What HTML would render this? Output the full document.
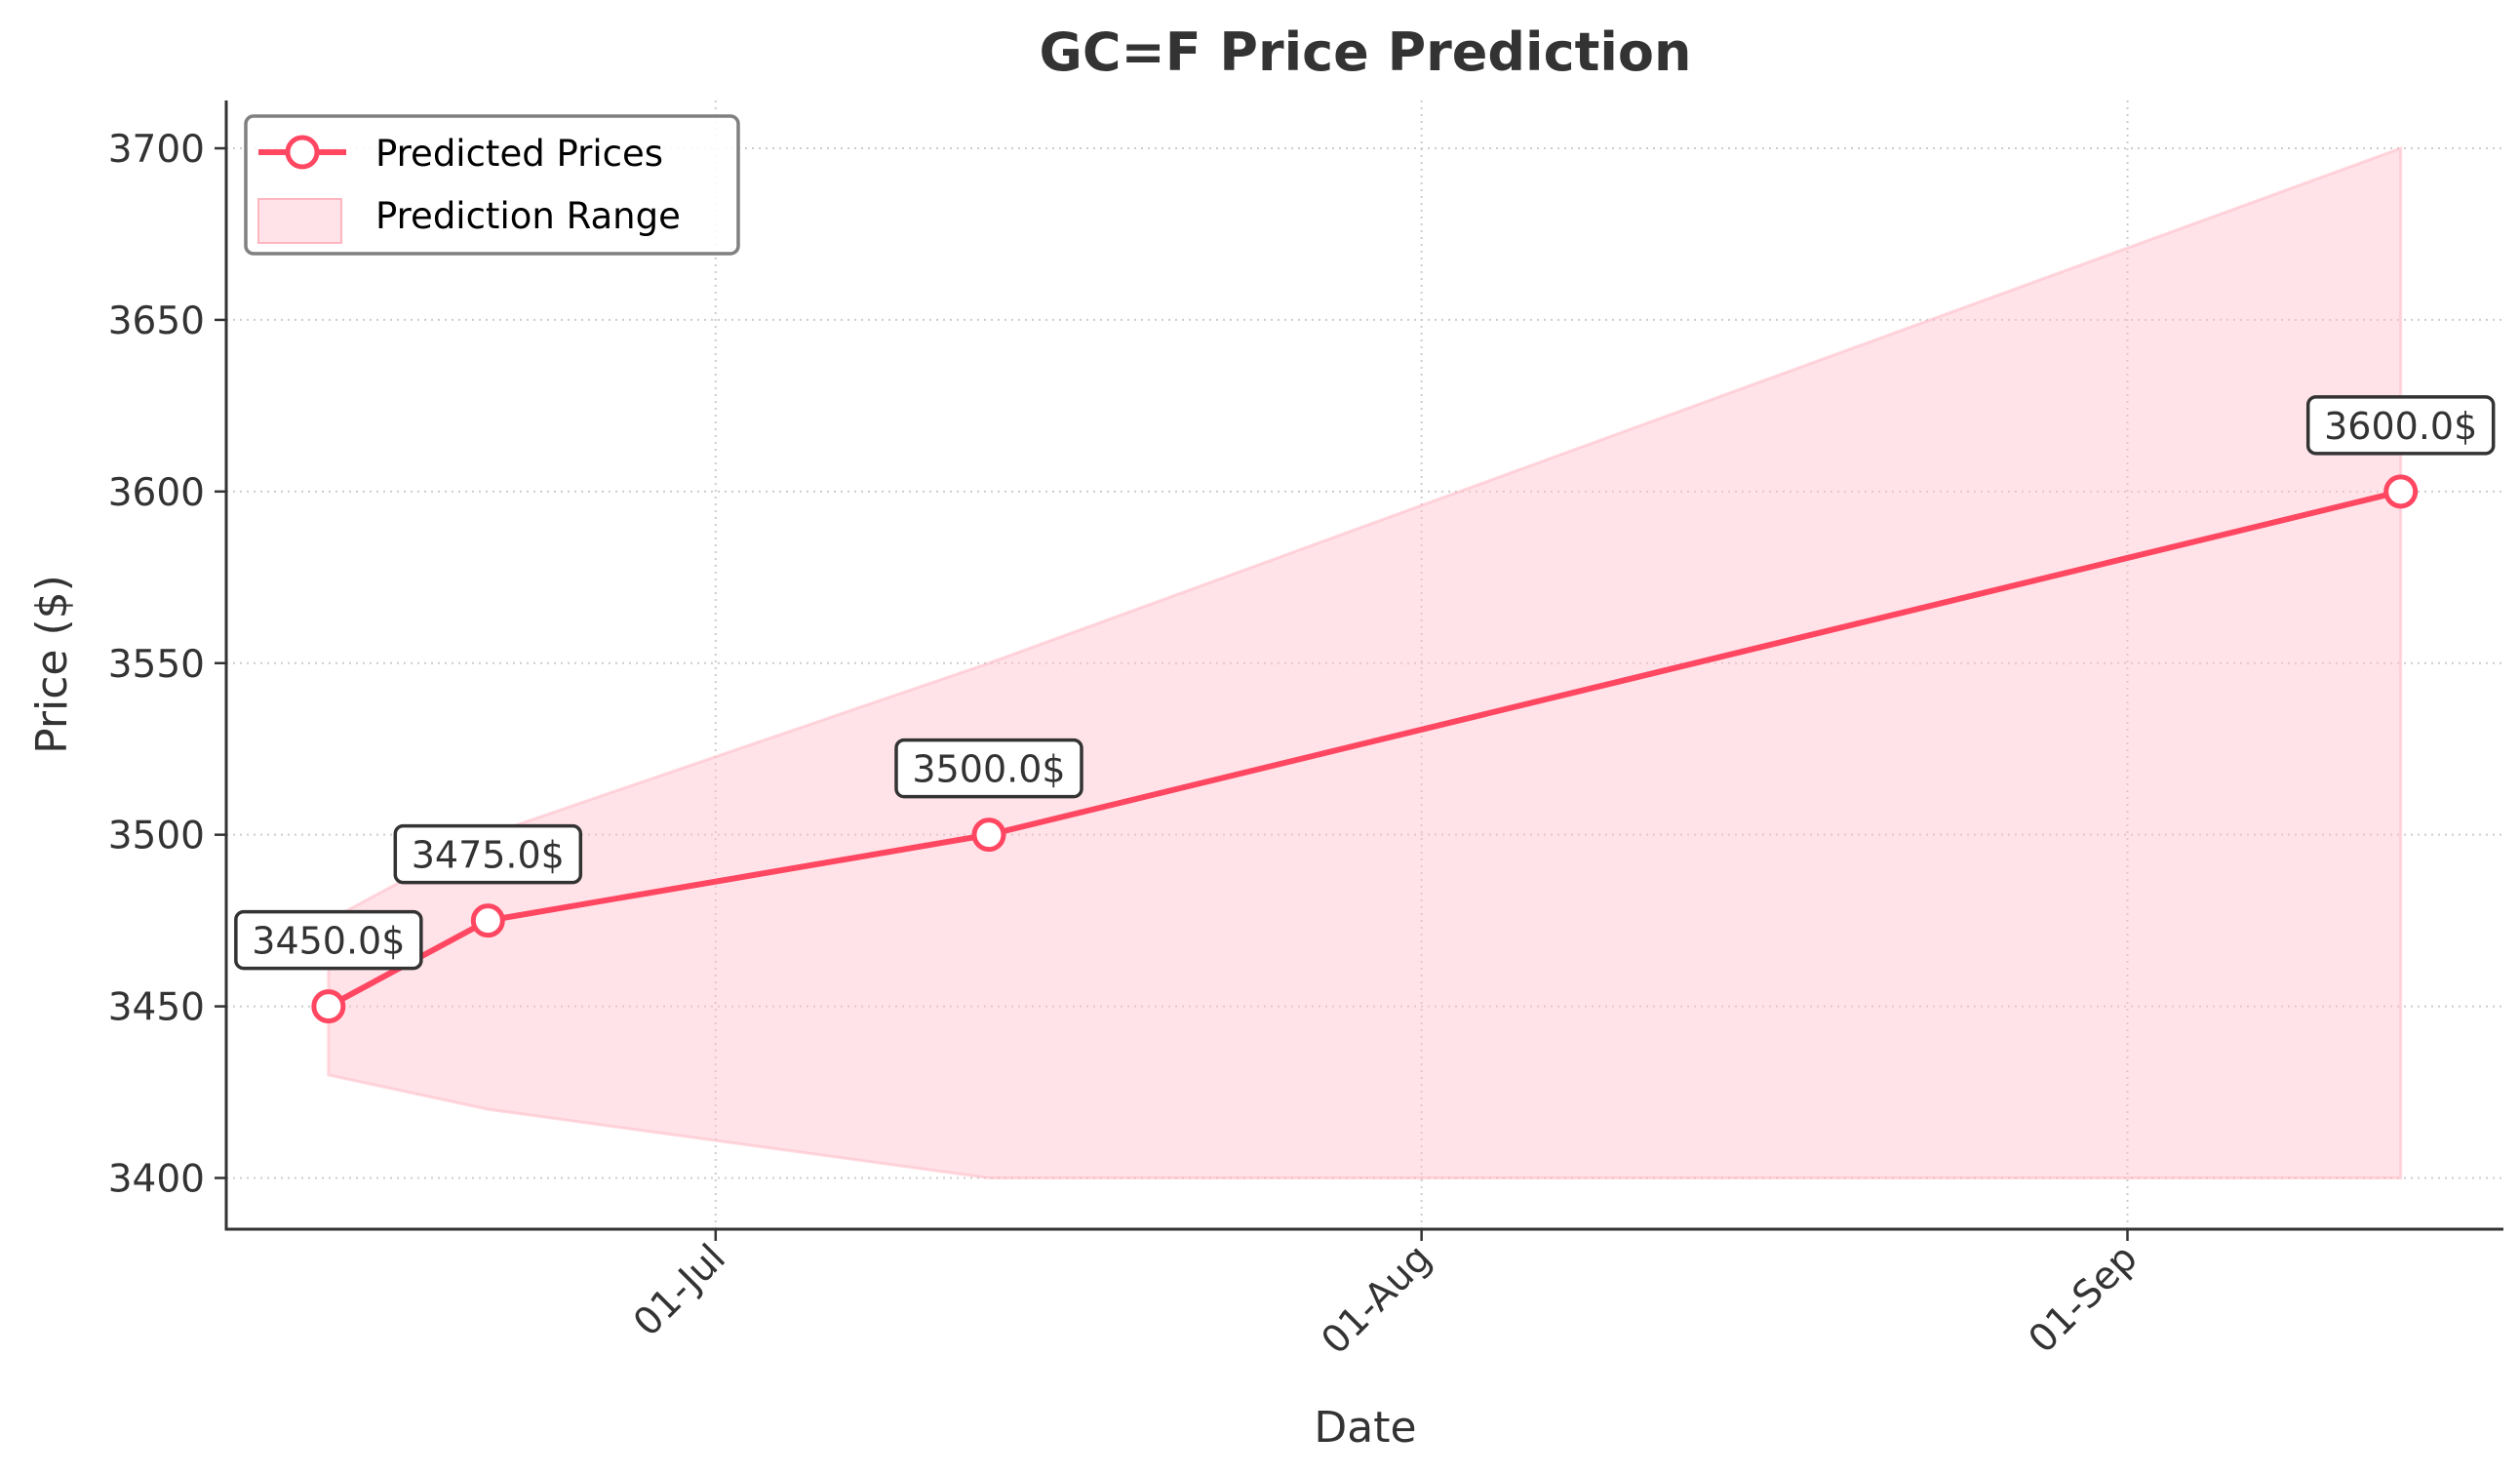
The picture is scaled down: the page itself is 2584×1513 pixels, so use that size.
<!DOCTYPE html>
<html><head><meta charset="utf-8"><style>
html,body{margin:0;padding:0;background:#fff}
svg{display:block;font-family:"DejaVu Sans","Liberation Sans",sans-serif}
</style></head><body>
<svg id="chart" width="2584" height="1513" viewBox="0 0 2584 1513" xmlns="http://www.w3.org/2000/svg">
<rect width="2584" height="1513" fill="#fff"/>
<text x="1400" y="72" text-anchor="middle" font-size="54" font-weight="bold" fill="#333">GC=F Price Prediction</text>
<g id="grid"></g>
<g id="band"></g>
<g id="series"></g>
<g id="axes"></g>
<g id="annots"></g>
<g>
<rect x="252" y="119" width="505" height="141" rx="8" fill="#fff" fill-opacity="0.85" stroke="#808080" stroke-width="3.5"/>
<line x1="265" y1="156" x2="355" y2="156" stroke="#ff4762" stroke-width="6"/>
<circle cx="310" cy="156" r="15" fill="#fff" stroke="#ff4762" stroke-width="5"/>
<text x="385" y="170" font-size="37" fill="#000">Predicted Prices</text>
<rect x="265" y="204" width="85" height="45" fill="#ffc0cb" fill-opacity="0.45" stroke="#ffb6c1" stroke-width="2"/>
<text x="385" y="234" font-size="37" fill="#000">Prediction Range</text>
</g>
<text x="1400" y="1478" text-anchor="middle" font-size="44" fill="#333">Date</text>
<text transform="translate(68,681) rotate(-90)" text-anchor="middle" font-size="44" fill="#333">Price ($)</text>
</svg>
<script>
const days = [13, 20, 42, 104]; // days since Jun 1
const prices = [3450, 3475, 3500, 3600];
const upper = [3475, 3500, 3550, 3700];
const lower = [3430, 3420, 3400, 3400];
const yTicks = [3400, 3450, 3500, 3550, 3600, 3650, 3700];
const xTickDays = [30, 61, 92];
const xTickLabels = ["01-Jul", "01-Aug", "01-Sep"];
const L=232,R=2567,T=103,B=1260;
const NS="http://www.w3.org/2000/svg";
function x(d){return 733.8+(d-30)*23.35;}
function y(v){return 1207.5-(v-3400)*(1055.5/300);}
function mk(tag,attrs,parent){const e=document.createElementNS(NS,tag);for(const k in attrs)e.setAttribute(k,attrs[k]);document.getElementById(parent).appendChild(e);return e;}
yTicks.forEach(v=>{
  const g=mk('line',{x1:L,x2:R,y1:y(v),y2:y(v),stroke:'#ccc','stroke-width':2,'stroke-dasharray':'2,5'},'grid');
  
  
  const t=mk('line',{x1:L-12,x2:L,y1:y(v),y2:y(v),stroke:'#333','stroke-width':2.5},'axes');
  
  
  const lb=mk('text',{x:L-22,y:y(v)+14,'text-anchor':'end','font-size':39,fill:'#333'},'axes');
  lb.textContent=v;
  
  
});
xTickDays.forEach((d,i)=>{
  const g=mk('line',{x1:x(d),x2:x(d),y1:T,y2:B,stroke:'#ccc','stroke-width':2,'stroke-dasharray':'2,5'},'grid');
  
  
  const t=mk('line',{x1:x(d),x2:x(d),y1:B,y2:B+12,stroke:'#333','stroke-width':2.5},'axes');
  
  
  const lb=mk('text',{transform:`translate(${x(d)+12},${B+32}) rotate(-45)`,'text-anchor':'end','font-size':39,fill:'#333'},'axes');
  lb.textContent=xTickLabels[i];
  
  
});
let pts=days.map((d,i)=>x(d)+','+y(upper[i]));
for(let i=days.length-1;i>=0;i--)pts.push(x(days[i])+','+y(lower[i]));
const band=mk('polygon',{points:pts.join(' '),fill:'#ffc0cb','fill-opacity':0.45,stroke:'#ffb6c1','stroke-opacity':0.5,'stroke-width':3},'band');


const ax=mk('path',{d:`M${L},${T} L${L},${B} L${R},${B}`,fill:'none',stroke:'#333','stroke-width':3},'axes');


const line=mk('polyline',{points:days.map((d,i)=>x(d)+','+y(prices[i])).join(' '),fill:'none',stroke:'#ff4762','stroke-width':6,'stroke-linejoin':'round'},'series');


days.forEach((d,i)=>{
  const c=mk('circle',{cx:x(d),cy:y(prices[i]),r:15,fill:'#fff',stroke:'#ff4762','stroke-width':5},'series');
  
  
  const cx=x(d),cy=y(prices[i])-63;
  const r=mk('rect',{x:cx-95,y:cy-34,width:190,height:58,rx:8,fill:'#fff',stroke:'#333','stroke-width':3.5},'annots');
  
  
  const t=mk('text',{x:cx,y:cy+9,'text-anchor':'middle','font-size':38,fill:'#333'},'annots');
  t.textContent=prices[i].toFixed(1)+'$';
  
  
});
</script>
</body></html>
